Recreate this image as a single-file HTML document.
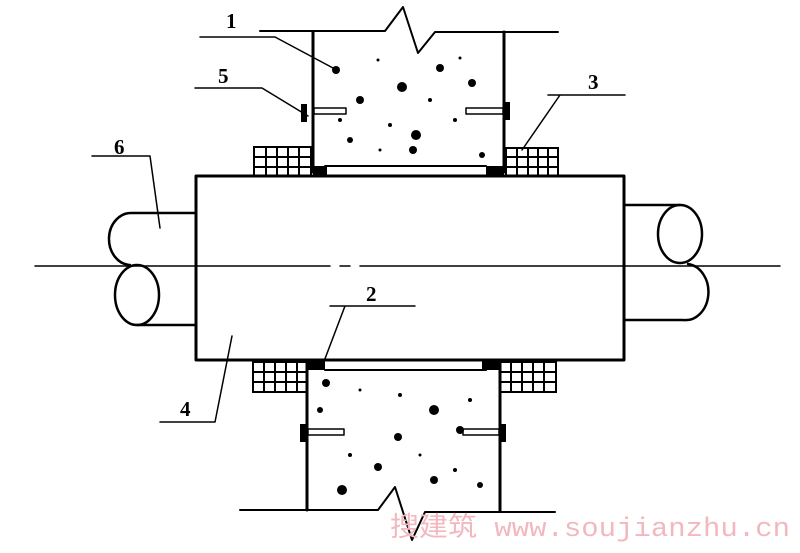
<!DOCTYPE html>
<html><head><meta charset="utf-8"><style>body{margin:0;background:#fff}svg{display:block}</style></head><body>
<svg width="800" height="553" viewBox="0 0 800 553" xmlns="http://www.w3.org/2000/svg">
<g stroke="#000" fill="none" stroke-linecap="round" stroke-linejoin="round">
<polyline points="260,31 385,31 403,7 418,53 435,32 558,32" stroke-width="2"/>
<line x1="313" y1="32" x2="313" y2="172" stroke-width="3"/>
<line x1="504" y1="32" x2="504" y2="172" stroke-width="3"/>
<line x1="325" y1="166" x2="486" y2="166" stroke-width="2"/>
<rect x="314" y="108" width="32" height="6" stroke-width="1.5"/>
<rect x="466" y="108" width="37" height="6" stroke-width="1.5"/>
<polyline points="240,510 378,510 395,487 412,540 425,512 555,512" stroke-width="2"/>
<line x1="307" y1="363" x2="307" y2="510" stroke-width="3"/>
<line x1="500" y1="363" x2="500" y2="511" stroke-width="3"/>
<line x1="325" y1="370" x2="486" y2="370" stroke-width="2"/>
<rect x="308" y="429" width="36" height="6" stroke-width="1.5"/>
<rect x="463" y="429" width="36" height="6" stroke-width="1.5"/>
<rect x="196" y="176" width="428" height="184" stroke-width="3"/>
<path d="M196,213 L132,213 A22,26 0 0 0 130,265" stroke-width="2.5"/>
<ellipse cx="137" cy="295" rx="22" ry="30" stroke-width="2.5"/>
<line x1="137" y1="325" x2="196" y2="325" stroke-width="2.5"/>
<ellipse cx="680" cy="234" rx="22" ry="29" stroke-width="2.5"/>
<line x1="624" y1="205" x2="680" y2="205" stroke-width="2.5"/>
<path d="M624,320 L683,320 A22,27 0 0 0 688,264" stroke-width="2.5"/>
<line x1="35" y1="266" x2="330" y2="266" stroke-width="1.5"/>
<line x1="340" y1="266" x2="350" y2="266" stroke-width="1.5"/>
<line x1="360" y1="266" x2="780" y2="266" stroke-width="1.5"/>
<polyline points="200,37 275,37 333,68" stroke-width="1.5"/>
<polyline points="195,88 262,88 308,116" stroke-width="1.5"/>
<polyline points="548,95 625,95 560,95 522,150" stroke-width="1.5"/>
<polyline points="92,156 150,156 160,228" stroke-width="1.5"/>
<polyline points="330,306 415,306 345,306 323,364" stroke-width="1.5"/>
<polyline points="160,422 215,422 232,336" stroke-width="1.5"/>
</g>
<g fill="#000">
<circle cx="336" cy="70" r="4"/><circle cx="402" cy="87" r="5"/><circle cx="440" cy="68" r="4"/><circle cx="472" cy="83" r="4"/><circle cx="360" cy="100" r="4"/><circle cx="416" cy="135" r="5"/><circle cx="413" cy="150" r="4"/><circle cx="350" cy="140" r="3"/><circle cx="482" cy="155" r="3"/>
<circle cx="378" cy="60" r="1.5"/><circle cx="430" cy="100" r="2"/><circle cx="455" cy="120" r="2"/><circle cx="340" cy="120" r="2"/><circle cx="390" cy="125" r="2"/><circle cx="460" cy="58" r="1.5"/><circle cx="380" cy="150" r="1.5"/>
<circle cx="326" cy="383" r="4"/><circle cx="320" cy="410" r="3"/><circle cx="434" cy="410" r="5"/><circle cx="398" cy="437" r="4"/><circle cx="460" cy="430" r="4"/><circle cx="378" cy="467" r="4"/><circle cx="342" cy="490" r="5"/><circle cx="434" cy="480" r="4"/><circle cx="480" cy="485" r="3"/>
<circle cx="360" cy="390" r="1.5"/><circle cx="400" cy="395" r="2"/><circle cx="470" cy="400" r="2"/><circle cx="350" cy="455" r="2"/><circle cx="420" cy="455" r="1.5"/><circle cx="455" cy="470" r="2"/>
<rect x="301" y="104" width="6" height="18"/><rect x="504" y="102" width="6" height="18"/>
<rect x="300" y="424" width="6" height="18"/><rect x="500" y="424" width="6" height="18"/>
<rect x="313" y="166" width="14" height="10"/><rect x="486" y="166" width="18" height="10"/>
<rect x="307" y="360" width="18" height="10"/><rect x="482" y="360" width="18" height="10"/>
</g>
<g stroke="#000" fill="none" stroke-width="2">
<rect x="254" y="147" width="57" height="29"/>
<path d="M254,157H311M254,167H311M266,147V176M277,147V176M288,147V176M299,147V176"/>
<rect x="506" y="148" width="52" height="28"/>
<path d="M506,157H558M506,167H558M517,148V176M528,148V176M538,148V176M548,148V176"/>
<rect x="253" y="362" width="54" height="30"/>
<path d="M253,372H307M253,382H307M264,362V392M275,362V392M286,362V392M297,362V392"/>
<rect x="500" y="362" width="56" height="30"/>
<path d="M500,372H556M500,382H556M511,362V392M522,362V392M533,362V392M544,362V392"/>
</g>
<g font-family="Liberation Serif, serif" font-size="21" font-weight="bold" fill="#000">
<text x="226" y="28">1</text><text x="218" y="83">5</text><text x="588" y="89">3</text>
<text x="114" y="154">6</text><text x="366" y="301">2</text><text x="180" y="416">4</text>
</g>
<text x="390" y="536" font-family="Liberation Mono, 'Noto Sans CJK SC', monospace" font-size="27" fill="#f2b8bf" textLength="400" lengthAdjust="spacingAndGlyphs">搜建筑 www.soujianzhu.cn</text>
</svg>
</body></html>
